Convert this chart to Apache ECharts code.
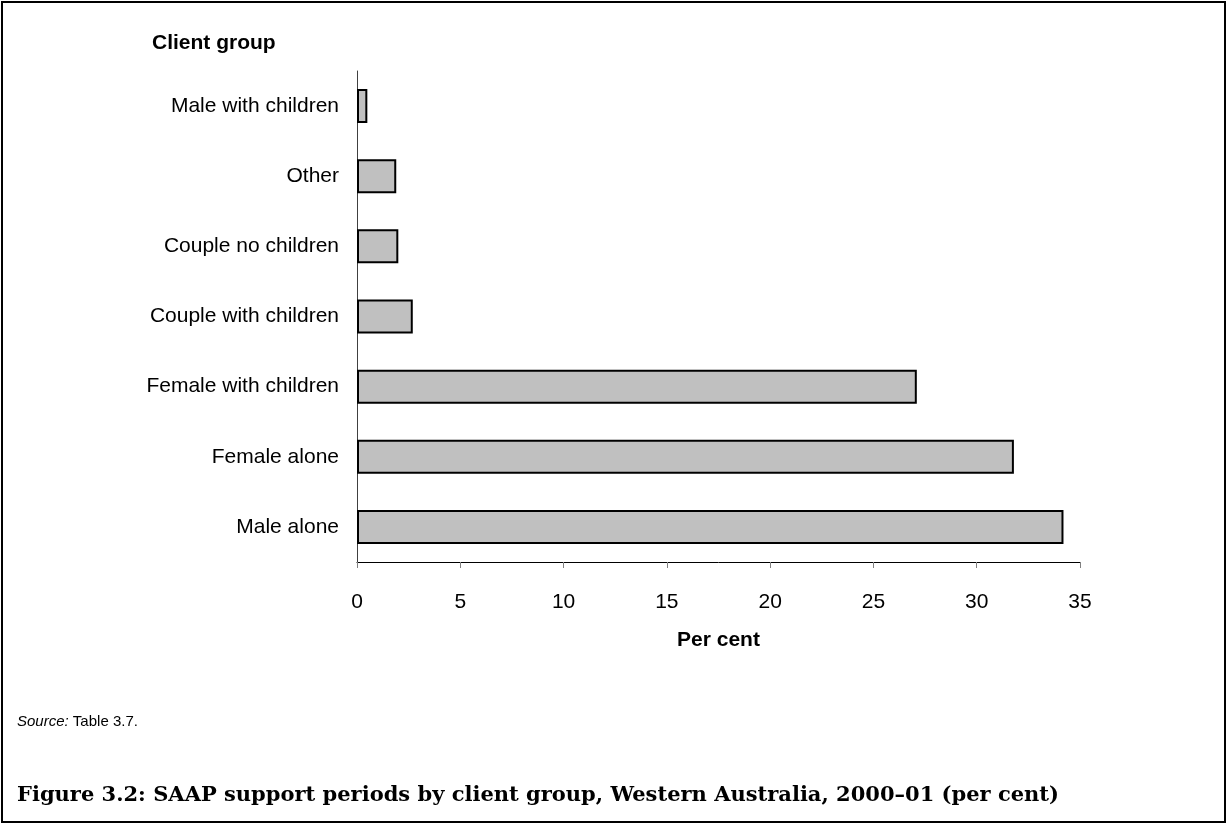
<!DOCTYPE html>
<html>
<head>
<meta charset="utf-8">
<script src="https://cdn.jsdelivr.net/npm/echarts@6/dist/echarts.min.js"></script>
<style>
  html, body { margin: 0; padding: 0; background: #fff; }
  #chart { width: 1228px; height: 825px; }
</style>
</head>
<body>
<div id="chart"></div>
<script>
// SAAP support periods by client group, Western Australia, 2000–01 (per cent)
const categories = [
  'Male with children',
  'Other',
  'Couple no children',
  'Couple with children',
  'Female with children',
  'Female alone',
  'Male alone'
];
const percentValues = [0.5, 1.9, 2.0, 2.7, 27.1, 31.8, 34.2];
const xTicks = [0, 5, 10, 15, 20, 25, 30, 35];

const sansFont = '"Liberation Sans", Arial, sans-serif';
const chart = echarts.init(document.getElementById('chart'), null, { renderer: 'canvas' });

chart.setOption({
  backgroundColor: '#ffffff',
  animation: false,
  grid: { left: 357, right: 148, top: 71, bottom: 263, containLabel: false },
  xAxis: {
    type: 'value',
    min: xTicks[0],
    max: xTicks[xTicks.length - 1],
    interval: xTicks[1] - xTicks[0],
    name: 'Per cent',
    nameLocation: 'middle',
    nameGap: 68,
    nameTextStyle: { fontFamily: sansFont, fontSize: 21, fontWeight: 'bold', color: '#000' },
    axisLine: { show: true, lineStyle: { color: '#000', width: 1 } },
    axisTick: { show: true, length: 6, lineStyle: { color: '#808080', width: 1 } },
    axisLabel: { fontFamily: sansFont, fontSize: 21, color: '#000', margin: 30 },
    splitLine: { show: false }
  },
  yAxis: {
    type: 'category',
    data: categories,
    inverse: true,
    axisLine: { show: true, lineStyle: { color: '#404040', width: 1 } },
    axisTick: { show: false },
    axisLabel: { fontFamily: sansFont, fontSize: 21, color: '#000', margin: 18 },
    splitLine: { show: false }
  },
  series: [{
    type: 'bar',
    data: percentValues,
    barWidth: 34,
    itemStyle: { color: '#c0c0c0', borderColor: '#000', borderWidth: 2 },
    silent: true
  }],
  graphic: [
    {
      type: 'rect',
      shape: { x: 2, y: 2, width: 1223, height: 820 },
      style: { fill: 'none', stroke: '#000', lineWidth: 2 },
      silent: true
    },
    {
      type: 'text',
      left: 152, top: 33,
      style: { text: 'Client group', font: 'bold 21px ' + sansFont, fill: '#000' }
    },
    {
      type: 'text',
      left: 17, top: 714,
      style: {
        text: '{i|Source:} Table 3.7.',
        rich: {
          i: { fontFamily: sansFont, fontSize: 15, fontStyle: 'italic', fill: '#000' }
        },
        fontFamily: sansFont, fontSize: 15, fill: '#000'
      }
    },
    {
      type: 'text',
      left: 17, top: 785,
      style: {
        text: 'Figure 3.2: SAAP support periods by client group, Western Australia, 2000–01 (per cent)',
        font: 'bold 21px "DejaVu Serif", serif',
        fill: '#000'
      }
    }
  ]
});
</script>
</body>
</html>
